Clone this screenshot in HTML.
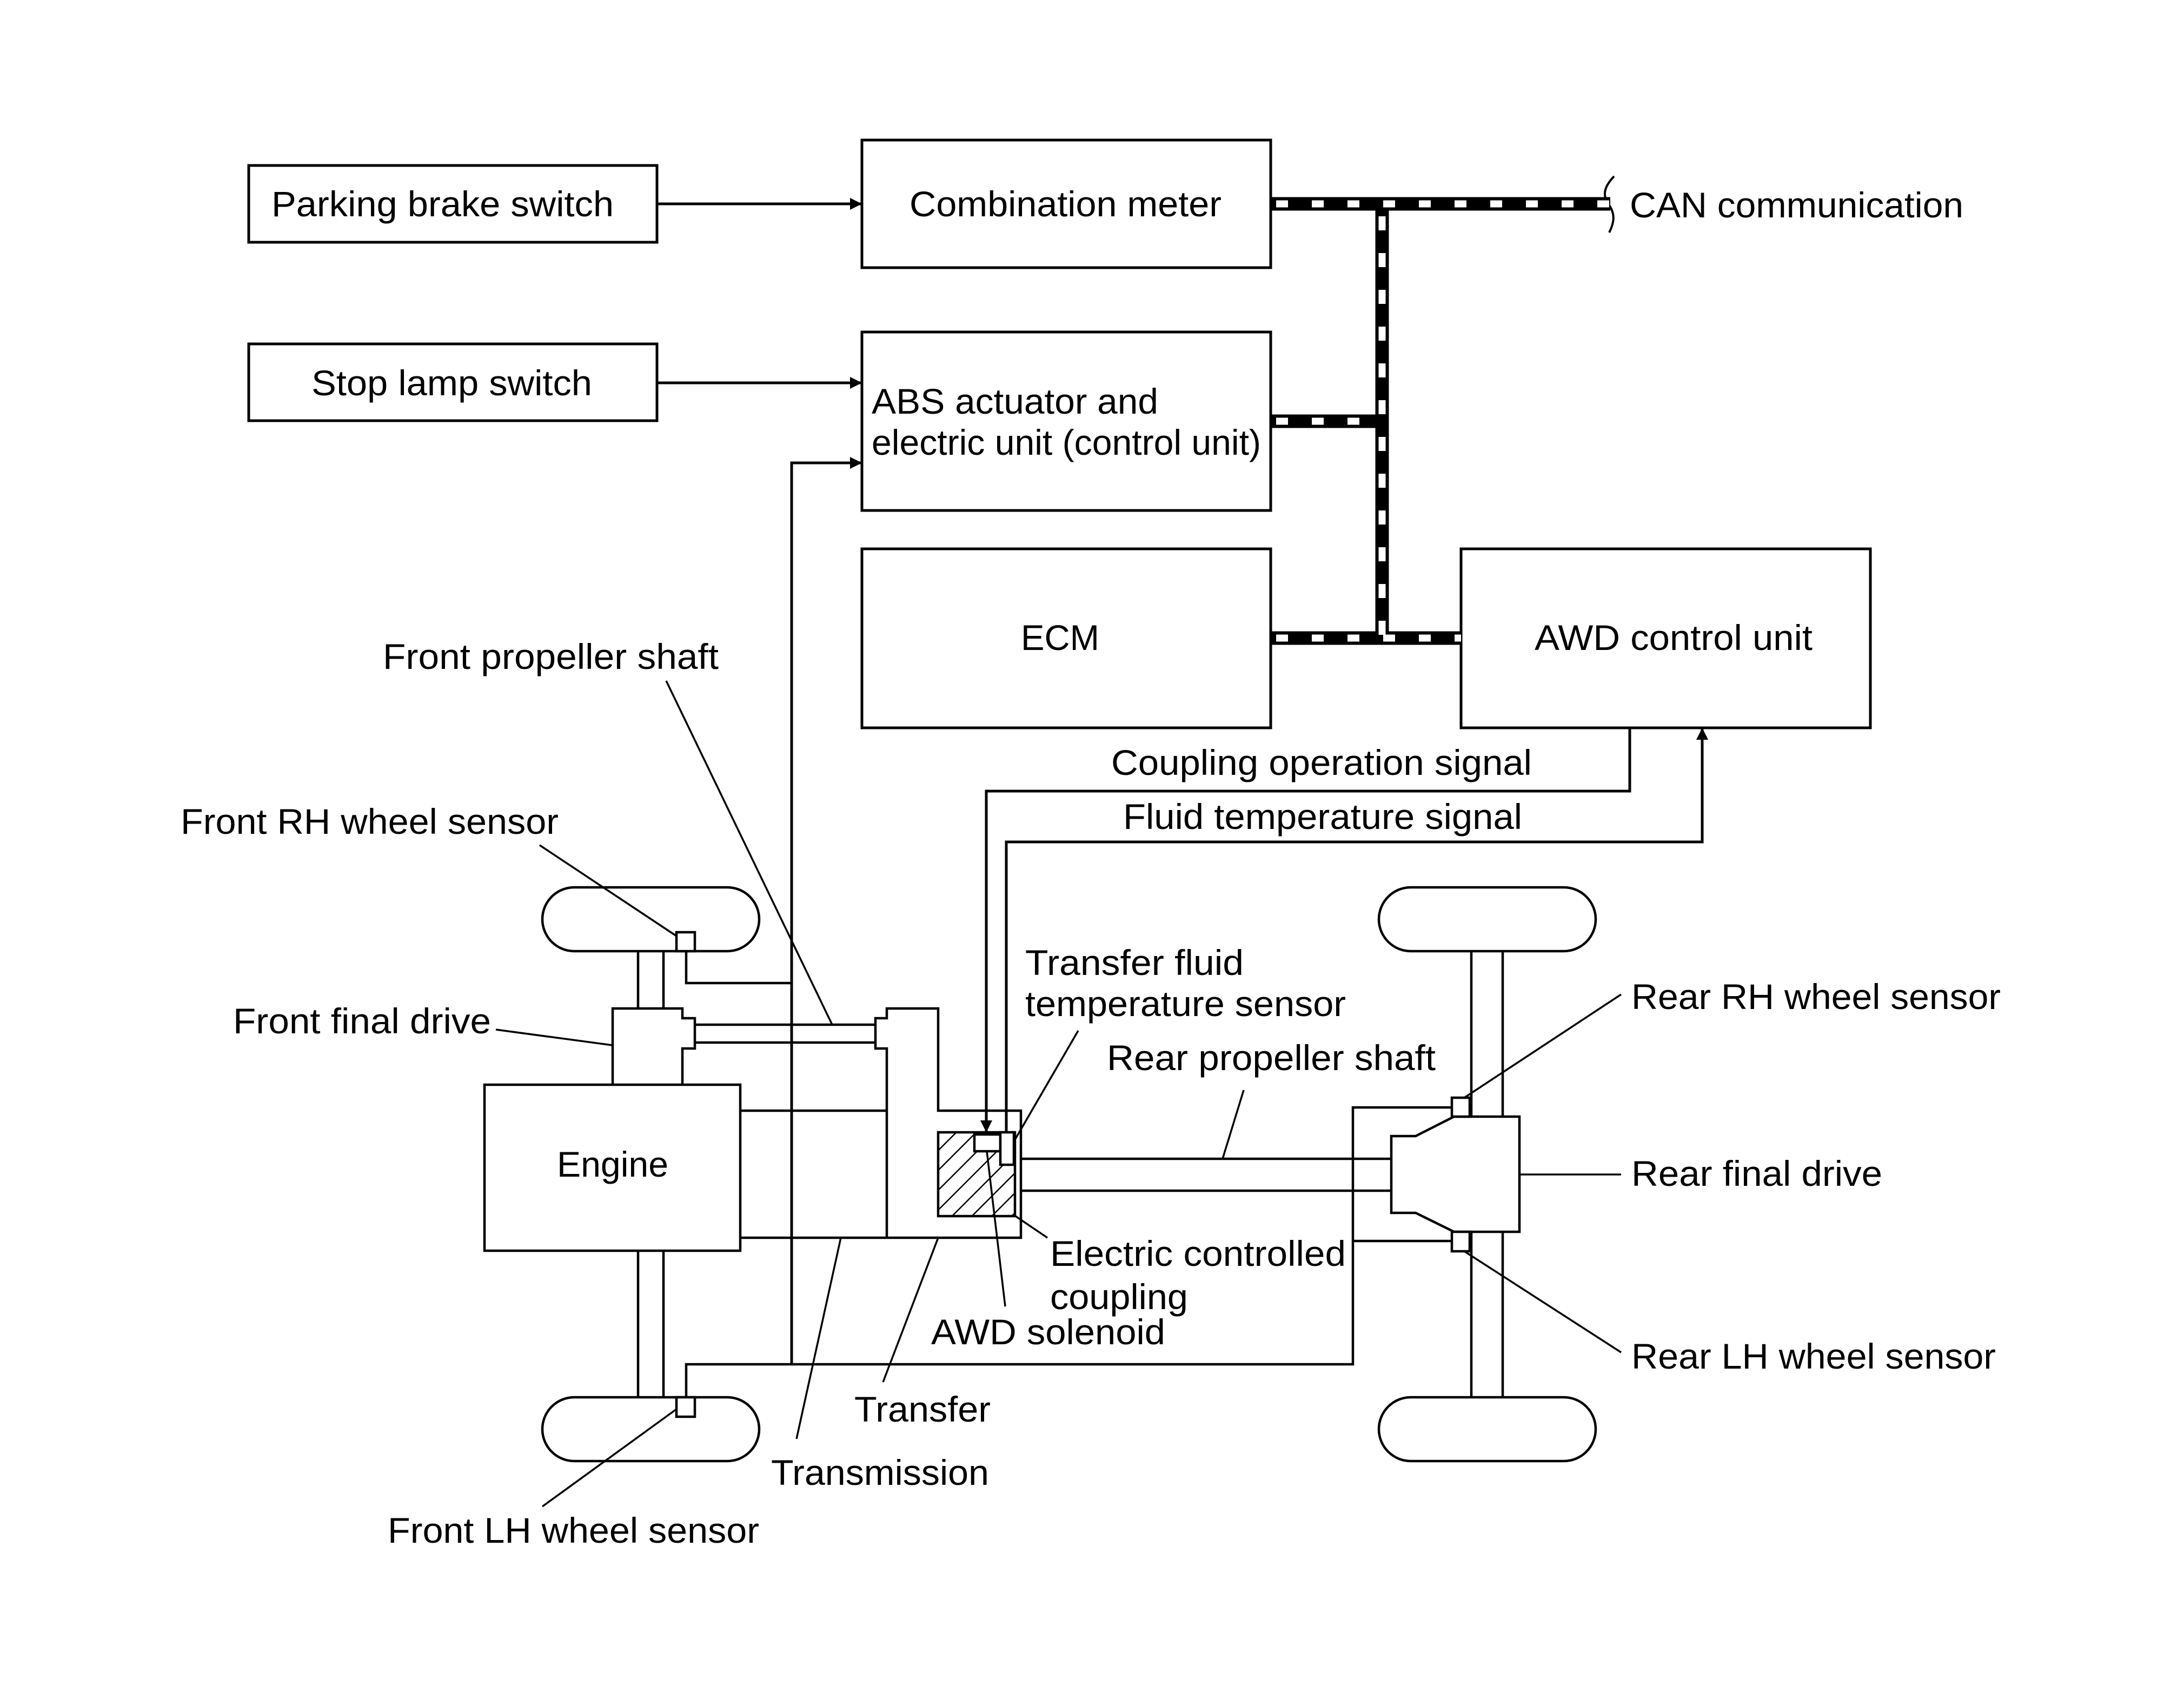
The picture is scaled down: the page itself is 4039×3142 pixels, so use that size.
<!DOCTYPE html>
<html><head><meta charset="utf-8"><style>html,body{margin:0;padding:0;background:#fff}svg{display:block}</style></head>
<body>
<svg xmlns="http://www.w3.org/2000/svg" width="4039" height="3142" viewBox="0 0 4039 3142">
<defs>
<pattern id="h" patternUnits="userSpaceOnUse" width="26" height="26" patternTransform="rotate(45)">
<line x1="0" y1="0" x2="0" y2="26" stroke="#000" stroke-width="5"/>
</pattern>
<marker id="a" viewBox="0 0 10 10" refX="10" refY="5" markerWidth="42" markerHeight="22" markerUnits="userSpaceOnUse" orient="auto"><path d="M0,0 L10,5 L0,10 z" fill="#000"/></marker>
</defs>
<rect width="4039" height="3142" fill="#fff"/>
<g fill="none" stroke="#000" stroke-width="5">
<rect x="460" y="306" width="755" height="142"/>
<rect x="1594" y="259" width="756" height="236"/>
<rect x="460" y="636" width="755" height="142"/>
<rect x="1594" y="614" width="756" height="330"/>
<rect x="1594" y="1015" width="756" height="331"/>
<rect x="2702" y="1015" width="757" height="331"/>
<line x1="1215" y1="377" x2="1594" y2="377" marker-end="url(#a)"/>
<line x1="1215" y1="708" x2="1594" y2="708" marker-end="url(#a)"/>
<polyline points="1464,2523 1464,856 1594,856" marker-end="url(#a)"/>
<polyline points="3014,1346 3014,1463 1824,1463 1824,2094" marker-end="url(#a)"/>
<polyline points="1861,2094 1861,1557 3148,1557 3148,1346" marker-end="url(#a)"/>
<path d="M2985,326 C2962,350 2966,365 2975,378 C2988,396 2985,412 2976,430" stroke-width="4"/>
</g>
<!-- CAN bus -->
<g fill="none">
<path d="M2350,377 H2978 M2556,377 V1180 M2350,779 H2556 M2350,1180 H2702" stroke="#000" stroke-width="25"/>
<path d="M2360,377 H2978 M2360,779 H2546 M2360,1180 H2702" stroke="#fff" stroke-width="13" stroke-dasharray="22,44"/>
<path d="M2556,400 V1180" stroke="#fff" stroke-width="13" stroke-dasharray="26,42"/>
</g>
<!-- chassis -->
<g fill="none" stroke="#000" stroke-width="4.5">
<rect x="1003" y="1641" width="401" height="118" rx="59"/>
<rect x="1003" y="2584" width="401" height="118" rx="59"/>
<rect x="2550" y="1641" width="401" height="118" rx="59"/>
<rect x="2550" y="2584" width="401" height="118" rx="59"/>
<line x1="1180" y1="1759" x2="1180" y2="1865"/>
<line x1="1227" y1="1759" x2="1227" y2="1865"/>
<line x1="1180" y1="2313" x2="1180" y2="2584"/>
<line x1="1227" y1="2313" x2="1227" y2="2584"/>
<line x1="2721" y1="1759" x2="2721" y2="2584"/>
<line x1="2779" y1="1759" x2="2779" y2="2584"/>
<rect x="1251" y="1724" width="34" height="35" fill="#fff"/>
<rect x="1251" y="2584" width="34" height="36" fill="#fff"/>
<polyline points="1269,1759 1269,1818 1464,1818"/>
<polyline points="1269,2584 1269,2523 2502,2523 2502,2048 2685,2048"/>
<line x1="2502" y1="2295" x2="2685" y2="2295"/>
<polyline points="1133,2006 1133,1865 1262,1865 1262,1883 1285,1883 1285,1939 1262,1939 1262,2006"/>
<line x1="1285" y1="1895" x2="1619" y2="1895"/>
<line x1="1285" y1="1928" x2="1619" y2="1928"/>
<polyline points="1640,2289 1640,1939 1619,1939 1619,1883 1640,1883 1640,1865 1735,1865 1735,2054 1888,2054 1888,2289 1369,2289"/>
<line x1="1369" y1="2054" x2="1640" y2="2054"/>
<rect x="896" y="2006" width="473" height="307" fill="#fff"/>
<rect x="1735" y="2094" width="142" height="155" fill="url(#h)"/>
<rect x="1802" y="2098" width="48" height="31" fill="#fff"/>
<rect x="1850" y="2094" width="25" height="60" fill="#fff"/>
<line x1="1888" y1="2143" x2="2573" y2="2143"/>
<line x1="1888" y1="2202" x2="2573" y2="2202"/>
<polygon points="2573,2101 2618,2101 2689,2065 2810,2065 2810,2278 2689,2278 2618,2243 2573,2243" fill="#fff"/>
<rect x="2685" y="2030" width="33" height="35" fill="#fff"/>
<rect x="2685" y="2278" width="33" height="36" fill="#fff"/>
</g>
<!-- leaders -->
<g stroke="#000" stroke-width="3.5" fill="none">
<line x1="998" y1="1563" x2="1251" y2="1731"/>
<line x1="1232" y1="1259" x2="1539" y2="1895"/>
<line x1="917" y1="1904" x2="1133" y2="1933"/>
<line x1="1003" y1="2786" x2="1251" y2="2606"/>
<line x1="1473" y1="2661" x2="1555" y2="2289"/>
<line x1="1633" y1="2556" x2="1735" y2="2289"/>
<line x1="1859" y1="2416" x2="1825" y2="2129"/>
<line x1="1937" y1="2289" x2="1878" y2="2249"/>
<line x1="1994" y1="1906" x2="1875" y2="2111"/>
<line x1="2300" y1="2016" x2="2261" y2="2143"/>
<line x1="2998" y1="1839" x2="2708" y2="2030"/>
<line x1="2810" y1="2172" x2="2998" y2="2172"/>
<line x1="2708" y1="2314" x2="2998" y2="2501"/>
</g>
<g font-family="Liberation Sans, sans-serif" font-size="66" fill="#000">
<text x="502" y="400" textLength="633" lengthAdjust="spacingAndGlyphs">Parking brake switch</text>
<text x="1682" y="400" textLength="577" lengthAdjust="spacingAndGlyphs">Combination meter</text>
<text x="576" y="731" textLength="519" lengthAdjust="spacingAndGlyphs">Stop lamp switch</text>
<text x="1612" y="765" textLength="530" lengthAdjust="spacingAndGlyphs">ABS actuator and</text>
<text x="1612" y="841" textLength="720" lengthAdjust="spacingAndGlyphs">electric unit (control unit)</text>
<text x="1888" y="1202" textLength="145" lengthAdjust="spacingAndGlyphs">ECM</text>
<text x="2838" y="1202" textLength="514" lengthAdjust="spacingAndGlyphs">AWD control unit</text>
<text x="3014" y="402" textLength="617" lengthAdjust="spacingAndGlyphs">CAN communication</text>
<text x="2055" y="1433" textLength="778" lengthAdjust="spacingAndGlyphs">Coupling operation signal</text>
<text x="2077" y="1533" textLength="738" lengthAdjust="spacingAndGlyphs">Fluid temperature signal</text>
<text x="708" y="1237" textLength="621" lengthAdjust="spacingAndGlyphs">Front propeller shaft</text>
<text x="334" y="1542" textLength="699" lengthAdjust="spacingAndGlyphs">Front RH wheel sensor</text>
<text x="431" y="1911" textLength="477" lengthAdjust="spacingAndGlyphs">Front final drive</text>
<text x="1030" y="2176" textLength="206" lengthAdjust="spacingAndGlyphs">Engine</text>
<text x="717" y="2853" textLength="687" lengthAdjust="spacingAndGlyphs">Front LH wheel sensor</text>
<text x="1426" y="2746" textLength="403" lengthAdjust="spacingAndGlyphs">Transmission</text>
<text x="1580" y="2629" textLength="252" lengthAdjust="spacingAndGlyphs">Transfer</text>
<text x="1722" y="2486" textLength="433" lengthAdjust="spacingAndGlyphs">AWD solenoid</text>
<text x="1942" y="2341" textLength="547" lengthAdjust="spacingAndGlyphs">Electric controlled</text>
<text x="1942" y="2421" textLength="255" lengthAdjust="spacingAndGlyphs">coupling</text>
<text x="1896" y="1803" textLength="404" lengthAdjust="spacingAndGlyphs">Transfer fluid</text>
<text x="1896" y="1879" textLength="593" lengthAdjust="spacingAndGlyphs">temperature sensor</text>
<text x="2047" y="1979" textLength="608" lengthAdjust="spacingAndGlyphs">Rear propeller shaft</text>
<text x="3017" y="1866" textLength="683" lengthAdjust="spacingAndGlyphs">Rear RH wheel sensor</text>
<text x="3017" y="2193" textLength="464" lengthAdjust="spacingAndGlyphs">Rear final drive</text>
<text x="3017" y="2531" textLength="674" lengthAdjust="spacingAndGlyphs">Rear LH wheel sensor</text>
</g>
</svg>
</body></html>
